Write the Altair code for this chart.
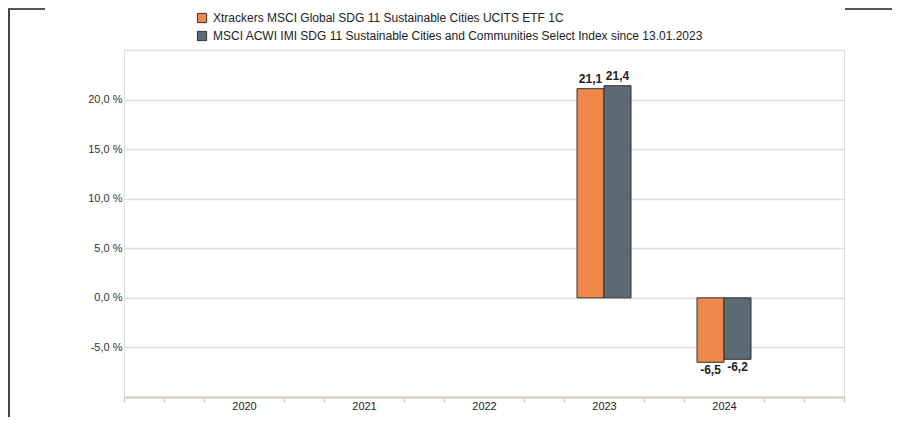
import altair as alt
import pandas as pd

years = [2020, 2021, 2022, 2023, 2024]
fund_name = "Xtrackers MSCI Global SDG 11 Sustainable Cities UCITS ETF 1C"
index_name = "MSCI ACWI IMI SDG 11 Sustainable Cities and Communities Select Index since 13.01.2023"
fund_values = [None, None, None, 21.1, -6.5]
index_values = [None, None, None, 21.4, -6.2]
series_names = [fund_name, index_name]
series_colors = ["#EE874A", "#5B6A75"]
y_ticks = [-10, -5, 0, 5, 10, 15, 20, 25]
x_ticks = [2019, 2019.3333, 2019.6667, 2020, 2020.3333, 2020.6667, 2021, 2021.3333, 2021.6667,
           2022, 2022.3333, 2022.6667, 2023, 2023.3333, 2023.6667, 2024, 2024.3333, 2024.6667, 2025]

rows = []
for i, (name, vals) in enumerate([(fund_name, fund_values), (index_name, index_values)]):
    for yr, v in zip(years, vals):
        if v is not None:
            rows.append({"year": yr, "series": name, "order": i, "value": v})
df = pd.DataFrame(rows)

W, H = 720, 347
BW = 0.225  # bar width in year units

base = alt.Chart(df).transform_calculate(
    x0="datum.year + (datum.order - 1) * %f" % BW,
    x1="datum.year + datum.order * %f" % BW,
    xm="datum.year + (datum.order - 0.5) * %f" % BW,
    lbl="(datum.value < 0 ? '-' : '') + replace(format(abs(datum.value), '.1f'), '.', ',')",
)

xscale = alt.Scale(domain=[2019, 2025], nice=False, zero=False)
yscale = alt.Scale(domain=[-10, 25], nice=False, zero=False)

x_axis = alt.Axis(
    values=x_ticks, tickCount=40, title=None, grid=False,
    domainColor="#DAD4CA", domainWidth=2.5,
    tickColor="#D6D0C6", tickWidth=1.5, tickSize=5,
    tickOpacity={"condition": {"test": "datum.value % 1 == 0 && datum.value >= 2020 && datum.value <= 2024", "value": 0}, "value": 1},
    labelExpr="datum.value % 1 == 0 && datum.value >= 2020 && datum.value <= 2024 ? toString(datum.value) : ''",
    labelFontSize=11, labelColor="#222222", labelPadding=-2,
    labelOverlap=False, labelFlush=False, labelBound=False,
)
y_axis = alt.Axis(
    values=y_ticks, tickCount=20, title=None, domain=False, ticks=False,
    gridColor="#E2DED8", gridWidth=1.5,
    labelExpr="datum.value < -5 || datum.value > 20 ? '' : (datum.value < 0 ? '-' : '') + replace(format(abs(datum.value), '.1f'), '.', ',') + ' %'",
    labelFontSize=11, labelColor="#333333", labelPadding=2,
    labelOverlap=False,
)

bars = base.mark_bar(stroke="#333333", strokeWidth=1).encode(
    x=alt.X("x0:Q", scale=xscale, axis=x_axis),
    x2="x1:Q",
    y=alt.Y("value:Q", scale=yscale, axis=y_axis),
    y2=alt.datum(0),
    color=alt.Color(
        "series:N",
        scale=alt.Scale(domain=series_names, range=series_colors),
        legend=alt.Legend(
            title=None, orient="none", legendX=72, legendY=-38,
            symbolType="square", symbolSize=85, symbolStrokeColor="#333333",
            symbolStrokeWidth=1, symbolOpacity=1,
            labelFontSize=12, labelColor="#222222", labelLimit=700,
            rowPadding=4, labelOffset=5,
        ),
    ),
)

pos_labels = base.transform_filter("datum.value >= 0").mark_text(
    baseline="bottom", dy=-3, fontSize=12, fontWeight="bold", color="#222222"
).encode(x="xm:Q", y="value:Q", text="lbl:N")

neg_labels = base.transform_filter("datum.value < 0").mark_text(
    baseline="top", dy=3, fontSize=12, fontWeight="bold", color="#222222"
).encode(x="xm:Q", y="value:Q", text="lbl:N")

# decorative frame of the screenshot
frame_left = alt.Chart(df).mark_rule(color="#444444", strokeWidth=2).encode(
    x=alt.value(-115), y=alt.value(-42), y2=alt.value(H + 40)
)
frame_top1 = alt.Chart(df).mark_rule(color="#555555", strokeWidth=2).encode(
    x=alt.value(-116), x2=alt.value(-79), y=alt.value(-41)
)
frame_top2 = alt.Chart(df).mark_rule(color="#555555", strokeWidth=2).encode(
    x=alt.value(721), x2=alt.value(770), y=alt.value(-41)
)

chart = alt.layer(bars, pos_labels, neg_labels, frame_left, frame_top1, frame_top2).properties(
    width=W, height=H,
    autosize=alt.AutoSizeParams(type="none"),
    padding={"left": 116, "top": 42, "right": 48, "bottom": 20},
).configure_view(stroke=None).configure(
    font="Liberation Sans"
)

chart.save("out.html", embed_options={"renderer": "svg", "actions": False})
